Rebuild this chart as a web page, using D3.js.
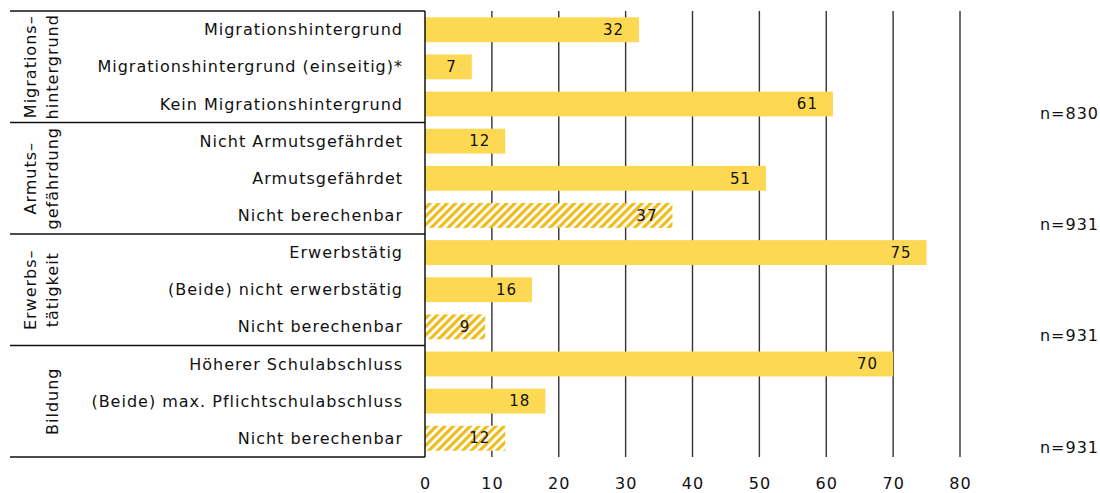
<!DOCTYPE html>
<html>
<head>
<meta charset="utf-8">
<script src="https://cdn.jsdelivr.net/npm/d3@7"></script>
<style>
  body { margin: 0; background: #fff; }
  text { font-family: "DejaVu Sans", sans-serif; fill: #111; letter-spacing: 1px; }
</style>
</head>
<body>
<div id="vis"></div>
<script>
// data
var groups = ["Migrationshintergrund", "Armutsgefährdung", "Erwerbstätigkeit", "Bildung"];
var groupLines = [["Migrations–", "hintergrund"], ["Armuts–", "gefährdung"], ["Erwerbs–", "tätigkeit"], ["Bildung"]];
var groupN = ["n=830", "n=931", "n=931", "n=931"];

var categories = [
  "Migrationshintergrund", "Migrationshintergrund (einseitig)*", "Kein Migrationshintergrund",
  "Nicht Armutsgefährdet", "Armutsgefährdet", "Nicht berechenbar",
  "Erwerbstätig", "(Beide) nicht erwerbstätig", "Nicht berechenbar",
  "Höherer Schulabschluss", "(Beide) max. Pflichtschulabschluss", "Nicht berechenbar"
];
var values = [32, 7, 61, 12, 51, 37, 75, 16, 9, 70, 18, 12];
var hatched = [false, false, false, false, false, true, false, false, true, false, false, true];
var xTicks = [0, 10, 20, 30, 40, 50, 60, 70, 80];

var W = 1100, H = 493;
var margin = {top: 11, right: 140, bottom: 36, left: 425};
var width = 960 - margin.left;
var height = 457 - margin.top;

var svg = d3.select("#vis").append("svg")
  .attr("width", W)
  .attr("height", H);

var defs = svg.append("defs");
var pat = defs.append("pattern")
  .attr("id", "hatch")
  .attr("patternUnits", "userSpaceOnUse")
  .attr("width", 6)
  .attr("height", 6)
  .attr("patternTransform", "rotate(45)");
pat.append("rect").attr("width", 6).attr("height", 6).attr("fill", "#fff");
pat.append("rect").attr("width", 3.2).attr("height", 6).attr("fill", "#EEBC1D");

var rows = categories.map(function(c, i) { return i; });

var x = d3.scaleLinear().domain([0, 80]).range([0, width]);
var y = d3.scaleBand().domain(rows).range([0, height]).paddingInner(0.33).paddingOuter(0.17);

var g = svg.append("g")
  .attr("transform", "translate(" + margin.left + "," + margin.top + ")");

// grid lines
g.append("g")
  .selectAll("line")
  .data(xTicks.slice(1))
  .enter().append("line")
  .attr("x1", function(d) { return x(d); })
  .attr("x2", function(d) { return x(d); })
  .attr("y1", 0)
  .attr("y2", height)
  .attr("stroke", "#333")
  .attr("stroke-width", 1.4);

// bars
g.append("g")
  .selectAll("rect")
  .data(values)
  .enter().append("rect")
  .attr("x", x(0))
  .attr("y", function(d, i) { return y(i); })
  .attr("width", function(d) { return x(d) - x(0); })
  .attr("height", y.bandwidth())
  .attr("fill", function(d, i) { return hatched[i] ? "url(#hatch)" : "#FDD853"; });

// value labels
g.append("g")
  .selectAll("text")
  .data(values)
  .enter().append("text")
  .attr("x", function(d) { return x(d) - 15; })
  .attr("y", function(d, i) { return y(i) + y.bandwidth() / 2; })
  .attr("dy", "0.35em")
  .attr("text-anchor", "end")
  .attr("font-size", 15)
  .text(function(d) { return d; });

// category labels
g.append("g")
  .selectAll("text")
  .data(categories)
  .enter().append("text")
  .attr("x", -22)
  .attr("y", function(d, i) { return y(i) + y.bandwidth() / 2; })
  .attr("dy", "0.35em")
  .attr("text-anchor", "end")
  .attr("font-size", 16)
  .text(function(d) { return d; });

// group separators
var groupH = height / groups.length;
g.append("g")
  .selectAll("line")
  .data(d3.range(groups.length + 1))
  .enter().append("line")
  .attr("x1", 10 - margin.left)
  .attr("x2", 0)
  .attr("y1", function(d) { return d * groupH; })
  .attr("y2", function(d) { return d * groupH; })
  .attr("stroke", "#111")
  .attr("stroke-width", 1.3);

// group labels (rotated)
groups.forEach(function(gr, k) {
  var lines = groupLines[k];
  var cy = (k + 0.5) * groupH;
  lines.forEach(function(l, i) {
    var cx = 52 - (lines.length - 1 - i) * 22 - margin.left;
    g.append("text")
      .attr("transform", "translate(" + cx + "," + cy + ") rotate(-90)")
      .attr("dy", "0.35em")
      .attr("text-anchor", "middle")
      .attr("font-size", 16)
      .text(l);
  });
  g.append("text")
    .attr("x", 1099 - margin.left)
    .attr("y", y(k * 3 + 2) + y.bandwidth() / 2 + 9)
    .attr("dy", "0.35em")
    .attr("text-anchor", "end")
    .attr("font-size", 16)
    .text(groupN[k]);
});

// axis
var ax = g.append("g")
  .attr("transform", "translate(0," + height + ")")
  .call(d3.axisBottom(x).tickValues(xTicks).tickSize(0).tickPadding(21));
ax.select(".domain").remove();
ax.selectAll("text").attr("font-size", 16).attr("font-family", "DejaVu Sans, sans-serif").attr("fill", "#111");

g.append("line")
  .attr("x1", 0).attr("x2", 0)
  .attr("y1", 0).attr("y2", height)
  .attr("stroke", "#111")
  .attr("stroke-width", 1.5);
</script>
</body>
</html>
